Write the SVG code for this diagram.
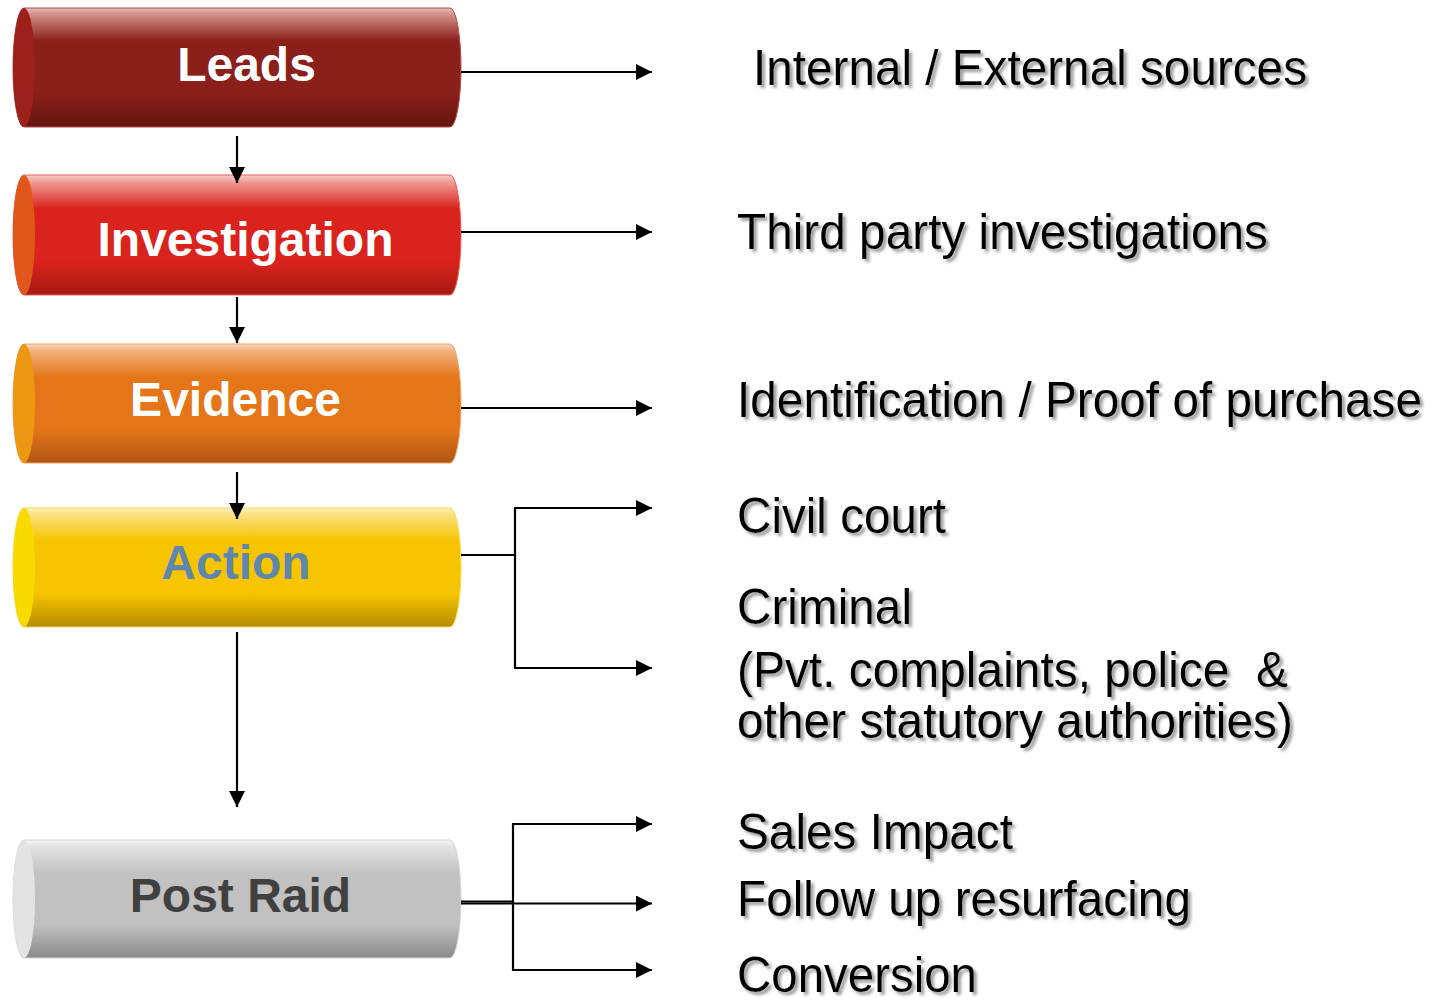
<svg xmlns="http://www.w3.org/2000/svg" width="1439" height="1001" viewBox="0 0 1439 1001">
  <style>
    .label { font-family: "Liberation Sans", Arial, sans-serif; font-weight: bold; font-size: 48px; text-anchor: middle; }
    .note { font-family: "Liberation Sans", Arial, sans-serif; font-size: 50px; fill: #000; filter: url(#textShadow); white-space: pre; }
    .wire { fill: none; stroke: #000; stroke-width: 2.2; }
    .arrow { fill: none; stroke: #000; stroke-width: 2.2; marker-end: url(#head); }
  </style>
  <defs>
    <marker id="head" markerUnits="userSpaceOnUse" markerWidth="17" markerHeight="16" refX="16" refY="8" orient="auto">
      <path d="M0,0 L16,8 L0,16 Z" fill="#000"/>
    </marker>
    <filter id="textShadow" x="-5%" y="-20%" width="110%" height="150%">
      <feGaussianBlur in="SourceAlpha" stdDeviation="1.4" result="b"/>
      <feOffset in="b" dx="2.5" dy="2.5" result="o"/>
      <feFlood flood-color="#8a8a8a" flood-opacity="0.85"/>
      <feComposite in2="o" operator="in" result="s"/>
      <feMerge><feMergeNode in="s"/><feMergeNode in="SourceGraphic"/></feMerge>
    </filter>
    <linearGradient id="gLeads" x1="0" y1="0" x2="0" y2="1">
      <stop offset="0" stop-color="#e6bcb8"/>
      <stop offset="0.06" stop-color="#cf8c86"/>
      <stop offset="0.28" stop-color="#8b1f1a"/>
      <stop offset="0.72" stop-color="#8b1f1a"/>
      <stop offset="1" stop-color="#631410"/>
    </linearGradient>
    <linearGradient id="gInv" x1="0" y1="0" x2="0" y2="1">
      <stop offset="0" stop-color="#f8cdc8"/>
      <stop offset="0.06" stop-color="#ef9a93"/>
      <stop offset="0.28" stop-color="#d9231c"/>
      <stop offset="0.72" stop-color="#d9231c"/>
      <stop offset="1" stop-color="#a51912"/>
    </linearGradient>
    <linearGradient id="gEvi" x1="0" y1="0" x2="0" y2="1">
      <stop offset="0" stop-color="#f8d8bc"/>
      <stop offset="0.06" stop-color="#f0b07c"/>
      <stop offset="0.28" stop-color="#e47619"/>
      <stop offset="0.72" stop-color="#e47619"/>
      <stop offset="1" stop-color="#b05512"/>
    </linearGradient>
    <linearGradient id="gAct" x1="0" y1="0" x2="0" y2="1">
      <stop offset="0" stop-color="#fdf0c0"/>
      <stop offset="0.06" stop-color="#fadf7c"/>
      <stop offset="0.28" stop-color="#f6c400"/>
      <stop offset="0.72" stop-color="#f6c400"/>
      <stop offset="1" stop-color="#b48c00"/>
    </linearGradient>
    <linearGradient id="gPost" x1="0" y1="0" x2="0" y2="1">
      <stop offset="0" stop-color="#f4f4f4"/>
      <stop offset="0.06" stop-color="#e2e2e2"/>
      <stop offset="0.28" stop-color="#c2c2c2"/>
      <stop offset="0.72" stop-color="#c0c0c0"/>
      <stop offset="1" stop-color="#898989"/>
    </linearGradient>
  </defs>

  <!-- process cylinders -->
  <g id="leads">
    <path d="M24,8 L450,8 A11,59.5 0 0 1 450,127 L24,127 A11,59.5 0 0 1 24,8 Z" fill="url(#gLeads)" stroke="#b4504a" stroke-width="1"/>
    <ellipse cx="24" cy="67.5" rx="11" ry="59.5" fill="#9b211a"/>
    <text class="label" x="246.5" y="81" fill="#fff">Leads</text>
  </g>
  <g id="investigation">
    <path d="M24,175 L450,175 A11,60 0 0 1 450,295 L24,295 A11,60 0 0 1 24,175 Z" fill="url(#gInv)" stroke="#e86058" stroke-width="1"/>
    <ellipse cx="24" cy="235" rx="11" ry="60" fill="#e0571b"/>
    <text class="label" x="245.5" y="256" fill="#fff">Investigation</text>
  </g>
  <g id="evidence">
    <path d="M24,344 L450,344 A11,59.5 0 0 1 450,463 L24,463 A11,59.5 0 0 1 24,344 Z" fill="url(#gEvi)" stroke="#f0a468" stroke-width="1"/>
    <ellipse cx="24" cy="403.5" rx="11" ry="59.5" fill="#ec9612"/>
    <text class="label" x="235.5" y="416" fill="#fff">Evidence</text>
  </g>
  <g id="action">
    <path d="M24,508 L450,508 A11,59.5 0 0 1 450,627 L24,627 A11,59.5 0 0 1 24,508 Z" fill="url(#gAct)" stroke="#ffd84a" stroke-width="1"/>
    <ellipse cx="24" cy="567.5" rx="11" ry="59.5" fill="#f9da00"/>
    <text class="label" x="236" y="579" fill="#5e87ab">Action</text>
  </g>
  <g id="post-raid">
    <path d="M24,840 L450,840 A11,59 0 0 1 450,958 L24,958 A11,59 0 0 1 24,840 Z" fill="url(#gPost)" stroke="#d6d6d6" stroke-width="1"/>
    <ellipse cx="24" cy="899" rx="11" ry="59" fill="#e3e3e3"/>
    <text class="label" x="240.5" y="912" fill="#404040">Post Raid</text>
  </g>

  <!-- connectors -->
  <g id="connectors">
    <path class="arrow" d="M237,136 L237,183"/>
    <path class="arrow" d="M237,297 L237,343"/>
    <path class="arrow" d="M237,472 L237,519"/>
    <path class="arrow" d="M237,632 L237,807"/>

    <path class="arrow" d="M461,72 L652,72"/>
    <path class="arrow" d="M461,232 L652,232"/>
    <path class="arrow" d="M461,408 L652,408"/>

    <path class="wire" d="M461,555 L515,555"/>
    <path class="wire" d="M515,508 L515,668"/>
    <path class="arrow" d="M514,508 L652,508"/>
    <path class="arrow" d="M514,668 L652,668"/>

    <path class="wire" d="M461,901.5 L513,901.5"/>
    <path class="wire" d="M513,824 L513,970"/>
    <path class="arrow" d="M512,824 L652,824"/>
    <path class="arrow" d="M461,903.5 L652,903.5"/>
    <path class="arrow" d="M512,970 L652,970"/>
  </g>

  <!-- descriptions -->
  <g id="notes">
    <text class="note" x="753" y="85" textLength="554" lengthAdjust="spacingAndGlyphs">Internal / External sources</text>
    <text class="note" x="737" y="249" textLength="531" lengthAdjust="spacingAndGlyphs">Third party investigations</text>
    <text class="note" x="737" y="417" textLength="685" lengthAdjust="spacingAndGlyphs">Identification / Proof of purchase</text>
    <text class="note" x="737" y="533" textLength="209" lengthAdjust="spacingAndGlyphs">Civil court</text>
    <text class="note" x="737" y="624" textLength="175" lengthAdjust="spacingAndGlyphs">Criminal</text>
    <text class="note" x="737" y="687" textLength="551" lengthAdjust="spacingAndGlyphs" xml:space="preserve">(Pvt. complaints, police  &amp;</text>
    <text class="note" x="737" y="738" textLength="556" lengthAdjust="spacingAndGlyphs">other statutory authorities)</text>
    <text class="note" x="737" y="849" textLength="276" lengthAdjust="spacingAndGlyphs">Sales Impact</text>
    <text class="note" x="737" y="916" textLength="454" lengthAdjust="spacingAndGlyphs">Follow up resurfacing</text>
    <text class="note" x="737" y="992" textLength="240" lengthAdjust="spacingAndGlyphs">Conversion</text>
  </g>
</svg>
